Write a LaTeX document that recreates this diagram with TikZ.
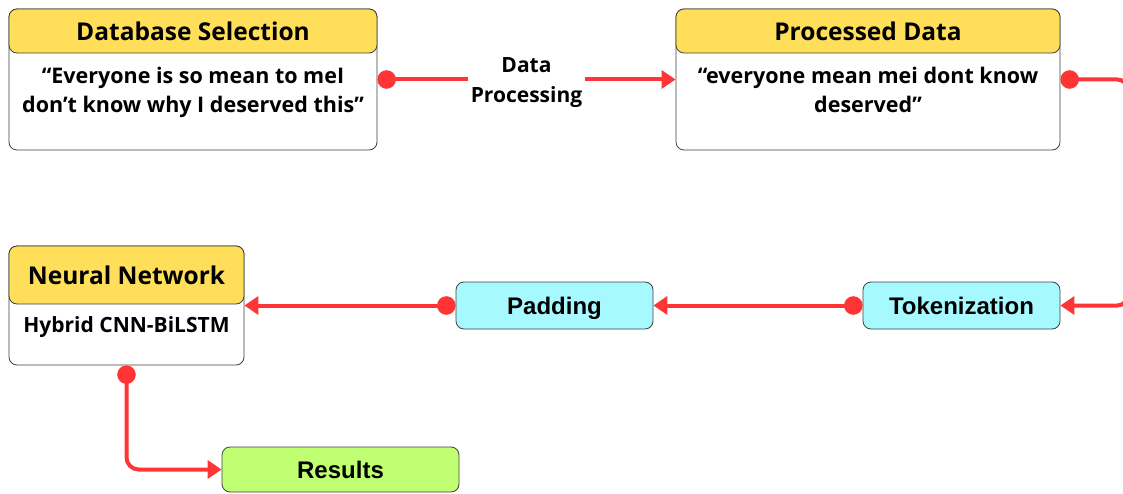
\documentclass[tikz,border=0pt]{standalone}
\usepackage{fontspec}
\setmainfont{Open Sans}
\newfontfamily\stepfont{Liberation Sans}
\usetikzlibrary{positioning, arrows.meta}

\definecolor{headyellow}{HTML}{FFDE59}
\definecolor{stepcyan}{HTML}{A6F9FF}
\definecolor{resultgreen}{HTML}{C1FF72}
\definecolor{flowred}{HTML}{FF3434}

\begin{document}
\begin{tikzpicture}[
    x=1pt, y=1pt,
    card/.style={
        rectangle, draw=black!75, line width=0.8pt, rounded corners=8pt,
        fill=white, inner sep=0pt
    },
    cardhead/.style={
        card, fill=headyellow, minimum height=44pt,
        font=\bfseries\fontsize{24.5}{28}\selectfont
    },
    cardtext/.style={
        align=center, inner sep=3pt, font=\bfseries\fontsize{21.5}{29}\selectfont
    },
    stepbox/.style={
        card, minimum width=197pt, minimum height=47pt,
        text height=17pt, text depth=0pt,
        font=\stepfont\bfseries\fontsize{24}{28}\selectfont
    },
    flow/.style={
        draw=flowred, line width=4pt,
        {Circle[length=18.5pt]}-{Triangle[length=14pt, width=18pt]}
    },
    edgelabel/.style={
        fill=white, align=center, inner sep=3pt,
        font=\bfseries\fontsize{21}{30}\selectfont
    }
]
\clip (0,0) rectangle (1123,493);

% ---------------- Database Selection ----------------
\node[card, minimum width=368pt, minimum height=141pt] (dbsel) at (193,413.5) {};
\node[cardhead, minimum width=368pt, anchor=north] (dbsel_title) at (dbsel.north) {Database Selection};
\node[cardtext, below=11pt of dbsel_title] (dbsel_text) {“Everyone is so mean to meI\\don’t know why I deserved this”};

% ---------------- Processed Data ----------------
\node[card, minimum width=384pt, minimum height=141pt] (procdata) at (868,413.5) {};
\node[cardhead, minimum width=384pt, anchor=north] (procdata_title) at (procdata.north) {Processed Data};
\node[cardtext, below=11pt of procdata_title] (procdata_text) {“everyone mean mei dont know\\deserved”};

% ---------------- Neural Network ----------------
\node[card, minimum width=235pt, minimum height=119pt] (nnet) at (126.5,187.5) {};
\node[cardhead, minimum width=235pt, minimum height=58pt, anchor=north] (nnet_title) at (nnet.north) {Neural Network};
\node[cardtext, below=9pt of nnet_title, font=\bfseries\fontsize{21}{24}\selectfont] (nnet_text) {Hybrid CNN-BiLSTM};

% ---------------- Preprocessing steps ----------------
\node[stepbox, fill=stepcyan] (tokenize) at (961.5,187.5) {Tokenization};
\node[stepbox, fill=stepcyan] (padding) at (554.5,187.5) {Padding};

\node[stepbox, fill=resultgreen, minimum width=237pt, minimum height=45pt] (results) at (340.5,23.5) {Results};

% ---------------- Arrows ----------------
\draw[flow] (dbsel.east) -- node[edgelabel, yshift=-3.5pt] (dataproc_lbl) {Data\\Processing} (procdata.west);
\draw[flow, rounded corners=10pt] (procdata.east) -- ++(67,0) |- (tokenize.east);
\draw[flow] (tokenize.west) -- (padding.east);
\draw[flow] (padding.west) -- (nnet.east);
\draw[flow, rounded corners=12pt] (nnet.south) |- (results.west);

\end{tikzpicture}
\end{document}
